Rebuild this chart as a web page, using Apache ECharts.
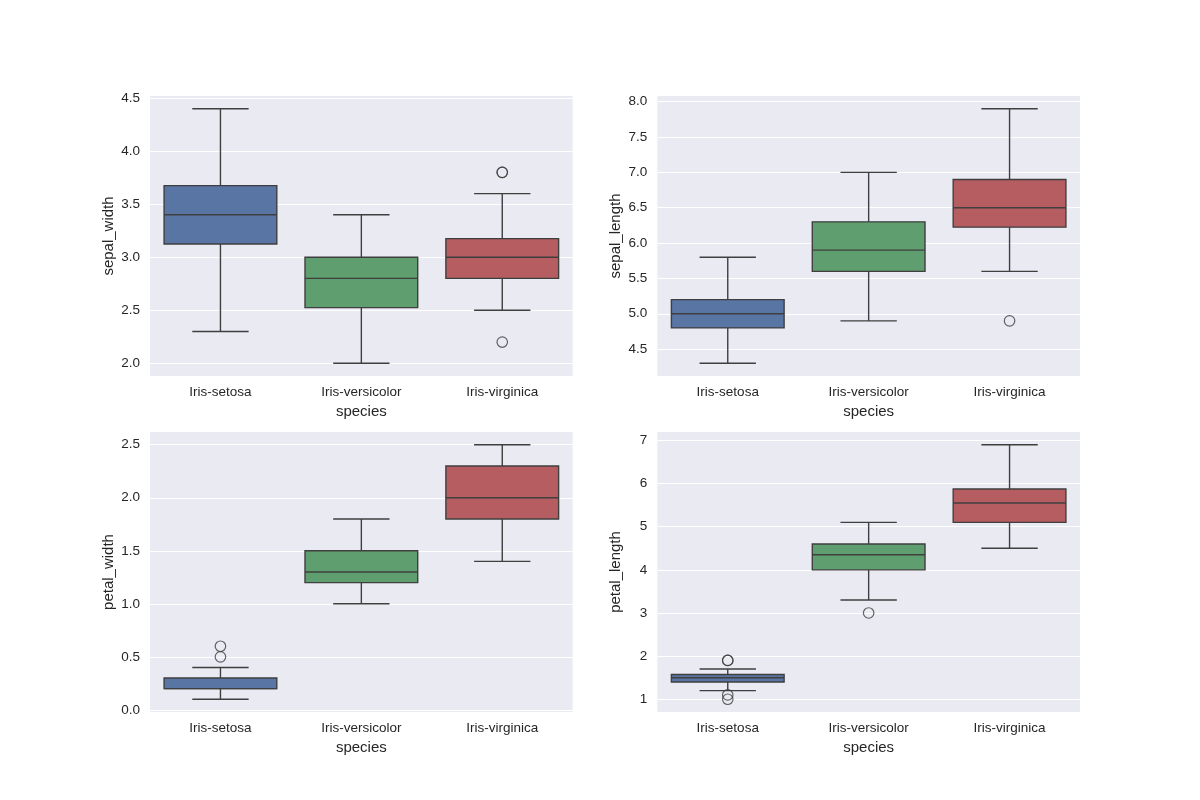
<!DOCTYPE html>
<html>
<head>
<meta charset="utf-8">
<script src="https://cdn.jsdelivr.net/npm/echarts@6/dist/echarts.min.js"></script>
<style>html,body{margin:0;padding:0;background:#fff}#c{width:1200px;height:800px}</style>
</head>
<body>
<div id="c"></div>
<script>
// ---- data ----
const categories = ['Iris-setosa', 'Iris-versicolor', 'Iris-virginica'];
// [whiskerLow, Q1, median, Q3, whiskerHigh]
const sepalWidthBoxes = [[2.3, 3.125, 3.4, 3.675, 4.4], [2.0, 2.525, 2.8, 3.0, 3.4], [2.5, 2.8, 3.0, 3.175, 3.6]];
const sepalWidthOutliers = [[2, 3.8], [2, 3.8], [2, 2.2]];
const sepalLengthBoxes = [[4.3, 4.8, 5.0, 5.2, 5.8], [4.9, 5.6, 5.9, 6.3, 7.0], [5.6, 6.225, 6.5, 6.9, 7.9]];
const sepalLengthOutliers = [[2, 4.9]];
const petalWidthBoxes = [[0.1, 0.2, 0.2, 0.3, 0.4], [1.0, 1.2, 1.3, 1.5, 1.8], [1.4, 1.8, 2.0, 2.3, 2.5]];
const petalWidthOutliers = [[0, 0.5], [0, 0.6]];
const petalLengthBoxes = [[1.2, 1.4, 1.5, 1.575, 1.7], [3.3, 4.0, 4.35, 4.6, 5.1], [4.5, 5.1, 5.55, 5.875, 6.9]];
const petalLengthOutliers = [[0, 1.0], [0, 1.1], [0, 1.9], [0, 1.9], [1, 3.0]];
const sepalWidthTicks = [2.0, 2.5, 3.0, 3.5, 4.0, 4.5];
const sepalLengthTicks = [4.5, 5.0, 5.5, 6.0, 6.5, 7.0, 7.5, 8.0];
const petalWidthTicks = [0.0, 0.5, 1.0, 1.5, 2.0, 2.5];
const petalLengthTicks = [1, 2, 3, 4, 5, 6, 7];
const yNames = ['sepal_width', 'sepal_length', 'petal_width', 'petal_length'];
const xName = 'species';

// ---- style ----
const boxColors = ['#5975A4', '#5F9E6E', '#B55D60'];
const lineColor = '#3f3f3f';
const textColor = '#262626';
const font = "'Liberation Sans', Arial, sans-serif";

const panels = [
  {boxes: sepalWidthBoxes, outl: sepalWidthOutliers, ticks: sepalWidthTicks, dec: 1, left: 150, top: 96},
  {boxes: sepalLengthBoxes, outl: sepalLengthOutliers, ticks: sepalLengthTicks, dec: 1, left: 657.3, top: 96},
  {boxes: petalWidthBoxes, outl: petalWidthOutliers, ticks: petalWidthTicks, dec: 1, left: 150, top: 432},
  {boxes: petalLengthBoxes, outl: petalLengthOutliers, ticks: petalLengthTicks, dec: 0, left: 657.3, top: 432}
];

function limits(p) {
  let lo = Infinity, hi = -Infinity;
  p.boxes.forEach(b => { lo = Math.min(lo, b[0]); hi = Math.max(hi, b[4]); });
  p.outl.forEach(o => { lo = Math.min(lo, o[1]); hi = Math.max(hi, o[1]); });
  const m = (hi - lo) * 0.05;
  return [lo - m, hi + m];
}

function renderBox(params, api) {
  const x = api.value(0);
  const lo = api.coord([x, api.value(1)]);
  const q1 = api.coord([x, api.value(2)]);
  const md = api.coord([x, api.value(3)]);
  const q3 = api.coord([x, api.value(4)]);
  const hi = api.coord([x, api.value(5)]);
  const band = api.size([1, 0])[0];
  const bw = band * 0.8, cw = bw / 2, cx = q1[0];
  const ls = {stroke: lineColor, lineWidth: 1.4};
  return {
    type: 'group',
    children: [
      {type: 'line', shape: {x1: cx, y1: q1[1], x2: cx, y2: lo[1]}, style: ls},
      {type: 'line', shape: {x1: cx, y1: q3[1], x2: cx, y2: hi[1]}, style: ls},
      {type: 'line', shape: {x1: cx - cw / 2, y1: lo[1], x2: cx + cw / 2, y2: lo[1]}, style: ls},
      {type: 'line', shape: {x1: cx - cw / 2, y1: hi[1], x2: cx + cw / 2, y2: hi[1]}, style: ls},
      {type: 'rect', shape: {x: cx - bw / 2, y: q3[1], width: bw, height: q1[1] - q3[1]},
        style: {fill: boxColors[x], stroke: lineColor, lineWidth: 1.4}},
      {type: 'line', shape: {x1: cx - bw / 2, y1: md[1], x2: cx + bw / 2, y2: md[1]}, style: ls}
    ]
  };
}

const grid = [], xAxis = [], yAxis = [], series = [];
panels.forEach((p, i) => {
  const lim = limits(p);
  grid.push({left: p.left, top: p.top, width: 422.7, height: 280, show: true,
    backgroundColor: '#EAEAF2', borderWidth: 0, containLabel: false});
  xAxis.push({type: 'category', gridIndex: i, data: categories, boundaryGap: true,
    axisLine: {show: false}, axisTick: {show: false}, splitLine: {show: false},
    axisLabel: {color: textColor, fontFamily: font, fontSize: 13.5, margin: 9},
    name: xName, nameLocation: 'middle', nameGap: 28,
    nameTextStyle: {color: textColor, fontFamily: font, fontSize: 15}});
  yAxis.push({type: 'value', gridIndex: i, min: lim[0], max: lim[1], scale: true,
    axisLine: {show: false},
    axisTick: {show: false, customValues: p.ticks},
    splitLine: {show: true, lineStyle: {color: '#ffffff', width: 1.1}},
    axisLabel: {customValues: p.ticks, color: textColor, fontFamily: font, fontSize: 13.5, margin: 10,
      formatter: v => Number(v).toFixed(p.dec), showMinLabel: true, showMaxLabel: true},
    name: yNames[i], nameLocation: 'middle', nameGap: 34,
    nameTextStyle: {color: textColor, fontFamily: font, fontSize: 15}});
  series.push({type: 'custom', xAxisIndex: i, yAxisIndex: i, renderItem: renderBox,
    encode: {x: 0, y: [1, 2, 3, 4, 5]}, z: 3,
    data: p.boxes.map((b, k) => [k].concat(b))});
  series.push({type: 'scatter', xAxisIndex: i, yAxisIndex: i, symbol: 'circle', symbolSize: 10.5, z: 4,
    itemStyle: {color: 'rgba(0,0,0,0)', borderColor: lineColor, borderWidth: 1.2},
    data: p.outl});
});

const chart = echarts.init(document.getElementById('c'), null, {renderer: 'canvas'});
chart.setOption({animation: false, backgroundColor: '#ffffff', grid, xAxis, yAxis, series});
</script>
</body>
</html>
